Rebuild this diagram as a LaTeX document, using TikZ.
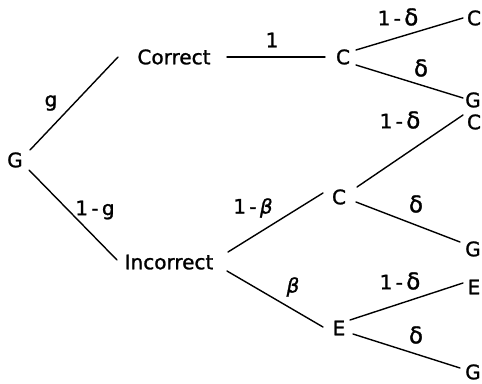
\documentclass[tikz,border=0pt]{standalone}
\usepackage{fontspec}
\setmainfont{DejaVu Sans}
\newfontfamily\treefont{DejaVu Sans}[FakeBold=1.2]
% a slightly larger delta, as lettered on the branches
\newcommand\dlt{{\fontsize{23}{24}\selectfont δ}}
\begin{document}
\begin{tikzpicture}[x=1pt,y=-1pt,
  state/.style={inner sep=0pt, text height=14.5pt, text depth=0pt,
    font=\treefont\fontsize{20}{24}\selectfont},
  prob/.style={inner sep=0pt, font=\treefont\fontsize{20}{24}\selectfont},
  branch/.style={line width=1.4pt, line cap=round}]
\useasboundingbox (0,0) rectangle (482,383);

% states of the tree
\node[state] (G0)  at (15,160)  {G};
\node[state] (Cor) at (174,57)  {Correct};
\node[state] (Inc) at (169,262) {Incorrect};
\node[state] (C1)  at (343,57)  {C};
\node[state] (C2)  at (339,197) {C};
\node[state] (E1)  at (339,328) {E};
\node[state] (L1)  at (474,18)  {C};
\node[state] (L2)  at (473,100) {G};
\node[state] (L3)  at (474,122) {C};
\node[state] (L4)  at (473,249) {G};
\node[state] (L5)  at (474,287) {E};
\node[state] (L6)  at (473,372) {G};

% branches
\draw[branch] ([shift={(15,-10)}]G0.center) -- ([shift={(-56,0)}]Cor.center);
\draw[branch] ([shift={(14,10)}]G0.center)  -- ([shift={(-52,-2)}]Inc.center);
\draw[branch] ([shift={(53,0)}]Cor.center)  -- ([shift={(-18,0)}]C1.center);
\draw[branch] ([shift={(13,-7)}]C1.center)  -- ([shift={(-11,0)}]L1.center);
\draw[branch] ([shift={(13,8)}]C1.center)   -- ([shift={(-10,-2)}]L2.center);
\draw[branch] ([shift={(59,-10)}]Inc.center) -- ([shift={(-16,-4)}]C2.center);
\draw[branch] ([shift={(58,9)}]Inc.center)  -- ([shift={(-16,-1)}]E1.center);
\draw[branch] ([shift={(18,-10)}]C2.center) -- ([shift={(-11,-7)}]L3.center);
\draw[branch] ([shift={(17,5)}]C2.center)   -- ([shift={(-13,-7)}]L4.center);
\draw[branch] ([shift={(11,-8)}]E1.center)  -- ([shift={(-11,-4)}]L5.center);
\draw[branch] ([shift={(14,6)}]E1.center)   -- ([shift={(-13,-4)}]L6.center);

% branch probabilities
\node[prob] (pg)   at (51,103)  {g};
\node[prob] (png)  at (95,210)  {1\,-\,g};
\node[prob] (p1)   at (272,40)  {1};
\node[prob] (pnd1) at (398,17)  {1\,-\,\dlt};
\node[prob] (pd1)  at (421,68)  {\dlt};
\node[prob] (pnb)  at (253,208) {1\,-\,\textit{β}};
\node[prob] (pb)   at (293,287) {\textit{β}};
\node[prob] (pnd2) at (400,120) {1\,-\,\dlt};
\node[prob] (pd2)  at (416,204) {\dlt};
\node[prob] (pnd3) at (400,281) {1\,-\,\dlt};
\node[prob] (pd3)  at (416,335) {\dlt};
\end{tikzpicture}
\end{document}
